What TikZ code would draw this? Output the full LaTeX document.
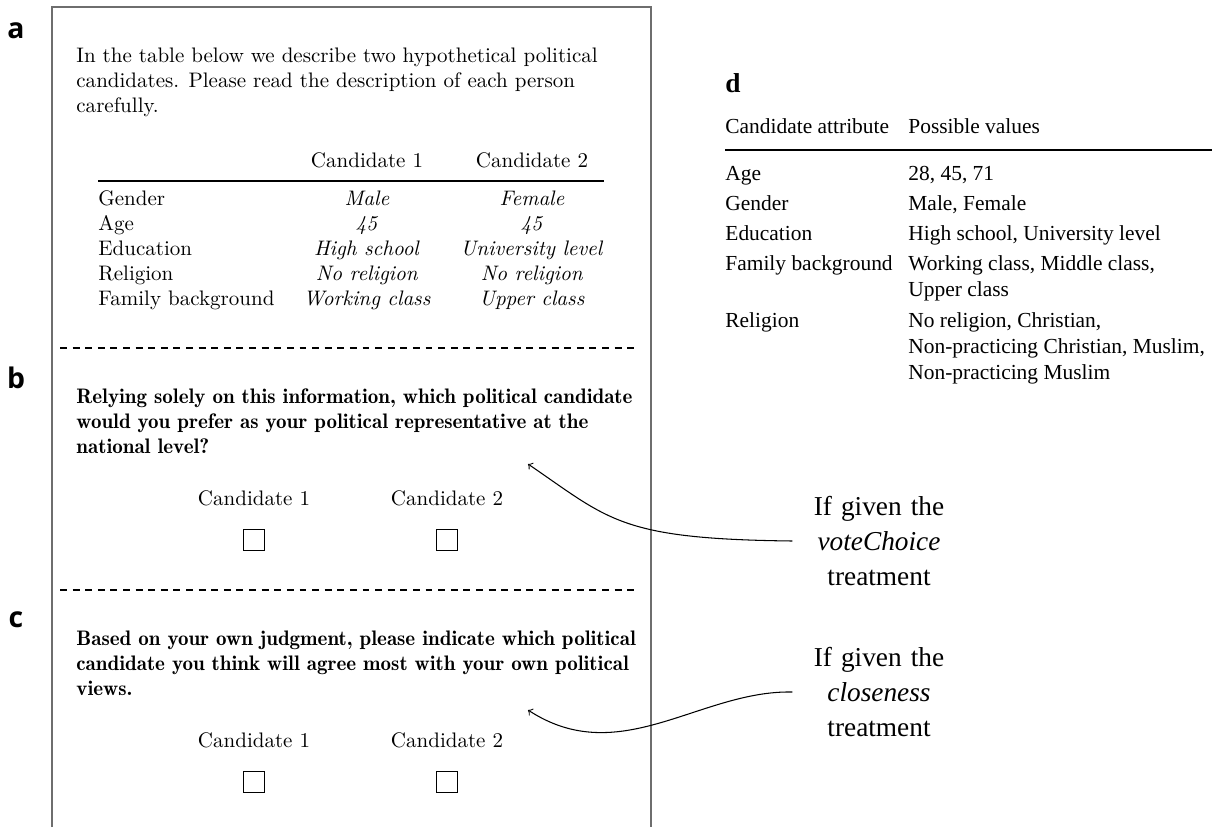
\documentclass[tikz,border=0pt]{standalone}
\usepackage{fontspec}
\newfontfamily\valuefont{Liberation Serif}
\newfontfamily\panelfont{Open Sans}
\newfontfamily\demifont{lmromandemi10-regular.otf}
\definecolor{framegray}{RGB}{110,110,110}
\tikzset{
  qtext/.style={font=\fontsize{10pt}{12pt}\selectfont, inner sep=0pt},
  qbold/.style={font=\demifont\fontsize{10pt}{12pt}\selectfont, inner sep=0pt},
  valcell/.style={font=\valuefont\fontsize{10.2pt}{12.6pt}\selectfont, inner sep=0pt},
  treat/.style={font=\valuefont\fontsize{13pt}{16.5pt}\selectfont, align=center,
    text width=63pt, inner xsep=9.5pt, inner ysep=0pt},
  panel/.style={font=\panelfont\bfseries\fontsize{13.5pt}{16pt}\selectfont, inner sep=0pt},
  checkbox/.style={draw, line width=0.5pt, minimum size=10.3pt, inner sep=0pt},
  divider/.style={line width=0.7pt, dash pattern=on 3.3pt off 2.7pt},
}
% lines stacked from the first baseline down
\newcommand{\leftlines}[1]{\begin{tabular}[t]{@{}l@{}}#1\end{tabular}}
\newcommand{\candrow}[5]{%
  \node[qtext, anchor=base west] (#2attr) at (98, #1) {#3};
  \node[qtext, anchor=base] (#2one) at (367, #1) {\textit{#4}};
  \node[qtext, anchor=base] (#2two) at (532, #1) {\textit{#5}};
}
\newcommand{\valuerow}[4]{%
  \node[valcell, anchor=base west] (#2attr) at (725, #1) {#3};
  \node[valcell, anchor=base west] (#2vals) at (908, #1) {\leftlines{#4}};
}
\newcommand{\questionpanel}[3]{%
  \begin{scope}[shift={(0, #1)}]
    \draw[divider] (60, 0) -- (638, 0);
    \node[panel] (#2label) at (16, 30) {#2};
    \node[qbold, anchor=base west] (#2text) at (76, 55) {\leftlines{#3}};
    \node[qtext, anchor=base] (#2cand1) at (254, 157) {Candidate 1};
    \node[qtext, anchor=base] (#2cand2) at (447, 157) {Candidate 2};
    \node[checkbox] (#2box1) at (254, 192) {};
    \node[checkbox] (#2box2) at (447, 192) {};
  \end{scope}
}

\begin{document}
\begin{tikzpicture}[x=0.476pt, y=-0.476pt]
\useasboundingbox (0, 0) rectangle (1212, 827);

% survey frame
\draw[framegray, line width=0.9pt] (52, 827) -- (52, 7) -- (651, 7) -- (651, 827);

% a: profile table
\node[panel] (alabel) at (16, 31) {a};
\node[qtext, anchor=base west] (intro) at (76, 62)
  {\leftlines{In the table below we describe two hypothetical political\\
   candidates. Please read the description of each person\\
   carefully.}};
\node[qtext, anchor=base] (head1) at (367, 167) {Candidate 1};
\node[qtext, anchor=base] (head2) at (532, 167) {Candidate 2};
\draw[line width=0.6pt] (98, 181) -- (604, 181);
\candrow{205}{gender}{Gender}{Male}{Female}
\candrow{230}{age}{Age}{45}{45}
\candrow{255}{edu}{Education}{High school}{University level}
\candrow{280}{rel}{Religion}{No religion}{No religion}
\candrow{305}{fam}{Family background}{Working class}{Upper class}

% b and c: outcome questions
\questionpanel{348}{b}{Relying solely on this information, which political candidate\\
  would you prefer as your political representative at the\\
  national level?}
\questionpanel{590}{c}{Based on your own judgment, please indicate which political\\
  candidate you think will agree most with your own political\\
  views.}

% d: attribute values
\node[font=\valuefont\bfseries\fontsize{13pt}{15pt}\selectfont, inner sep=0pt] (dlabel) at (733, 83) {d};
\node[valcell, anchor=base west] (attrhead) at (725, 133) {Candidate attribute};
\node[valcell, anchor=base west] (valhead) at (908, 133) {Possible values};
\draw[line width=0.8pt] (725, 150) -- (1212, 150);
\valuerow{180}{dage}{Age}{28, 45, 71}
\valuerow{210}{dgender}{Gender}{Male, Female}
\valuerow{240}{dedu}{Education}{High school, University level}
\valuerow{270}{dfam}{Family background}{Working class, Middle class,\\Upper class}
\valuerow{327}{drel}{Religion}{No religion, Christian,\\Non-practicing Christian, Muslim,\\Non-practicing Muslim}

% treatments
\coordinate (vcTip) at (528, 464);
\coordinate (clTip) at (528, 710);
\node[treat] (vcTreat) at (879, 541) {If given the\\\textit{voteChoice}\\treatment};
\node[treat] (clTreat) at (879, 692) {If given the\\\textit{closeness}\\treatment};
\draw[->, line width=0.5pt] (vcTreat.west) .. controls (620, 539) and (610, 520) .. (vcTip);
\draw[->, line width=0.5pt] (clTreat.west) .. controls (700, 690) and (620, 770) .. (clTip);

\end{tikzpicture}
\end{document}
